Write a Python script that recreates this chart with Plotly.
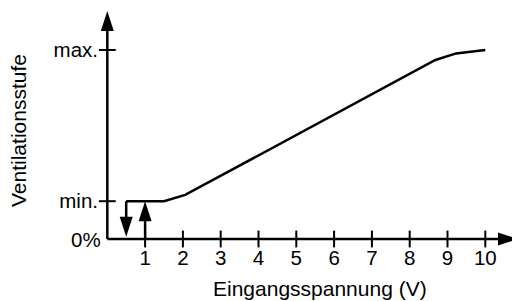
import plotly.graph_objects as go

# ---- data ----
curve_v = [0.5, 1.5, 2.06, 8.68, 9.23, 10.0]
curve_level = [20, 20, 23.3, 94.7, 98.2, 100]

x_ticks = [1, 2, 3, 4, 5, 6, 7, 8, 9, 10]
x_ticklabels = ["1", "2", "3", "4", "5", "6", "7", "8", "9", "10"]
y_ticks = [20, 100]
y_ticklabels = ["min.", "max."]
zero_label = "0%"

down_arrow_v = 0.5      # switching off
down_arrow_from = 20
down_arrow_to = 1.2
up_arrow_v = 1.0        # switching on
up_arrow_from = 0
up_arrow_to = 20

x_axis_end = 10.865
y_axis_end = 120.6

x_title = "Eingangsspannung (V)"
y_title = "Ventilationsstufe"

# ---- geometry (page pixels; the page body adds an 8px offset) ----
OFF = 8
PAGE_W, PAGE_H = 520, 301
W, H = PAGE_W - OFF, PAGE_H - OFF
PX_V = 37.8      # px per volt
PX_P = 1.89      # px per percent
ORIGIN_X = 107.3
ORIGIN_Y = 239.0
plot_l, plot_r, plot_t, plot_b = 103, 520, 8, 243
ML = plot_l - OFF
MR = PAGE_W - plot_r
MT = plot_t - OFF
MB = PAGE_H - plot_b
xr = [(plot_l - ORIGIN_X) / PX_V, (plot_r - ORIGIN_X) / PX_V]
yr = [(ORIGIN_Y - plot_b) / PX_P, (ORIGIN_Y - plot_t) / PX_P]

FONT = "Liberation Sans, Arial, sans-serif"
LW = 2.5
HEAD = 21
head_len_px = 0.951 * HEAD  # length of the 'arrow' marker symbol

fig = go.Figure()

# axis lines
fig.add_trace(go.Scatter(x=[0, x_axis_end - 0.8 * head_len_px / PX_V], y=[0, 0],
                         mode="lines", line=dict(color="black", width=LW),
                         showlegend=False, hoverinfo="skip"))
fig.add_trace(go.Scatter(x=[0, 0], y=[0, y_axis_end - 0.8 * head_len_px / PX_P],
                         mode="lines", line=dict(color="black", width=LW),
                         showlegend=False, hoverinfo="skip"))

# main characteristic curve
fig.add_trace(go.Scatter(x=curve_v, y=curve_level, mode="lines",
                         line=dict(color="black", width=LW),
                         hoverinfo="skip", showlegend=False))

# hysteresis arrows (shafts stop at arrow head base)
hl = head_len_px / PX_P
fig.add_trace(go.Scatter(x=[down_arrow_v, down_arrow_v],
                         y=[down_arrow_from, down_arrow_to + hl * 0.8],
                         mode="lines", line=dict(color="black", width=LW),
                         showlegend=False, hoverinfo="skip"))
fig.add_trace(go.Scatter(x=[up_arrow_v, up_arrow_v],
                         y=[up_arrow_from, up_arrow_to - hl * 0.8],
                         mode="lines", line=dict(color="black", width=LW),
                         showlegend=False, hoverinfo="skip"))

# arrow heads (hysteresis + axes)
fig.add_trace(go.Scatter(
    x=[down_arrow_v, up_arrow_v, 0, x_axis_end],
    y=[down_arrow_to, up_arrow_to, y_axis_end, 0],
    mode="markers", cliponaxis=False,
    marker=dict(symbol="arrow", size=HEAD, angle=[180, 0, 0, 90],
                color="black", line=dict(width=0)),
    showlegend=False, hoverinfo="skip"))

# crossing tick marks
fig.add_trace(go.Scatter(x=x_ticks, y=[0] * len(x_ticks), mode="markers",
                         cliponaxis=False,
                         marker=dict(symbol="line-ns", size=12,
                                     line=dict(color="black", width=2)),
                         showlegend=False, hoverinfo="skip"))
fig.add_trace(go.Scatter(x=[0] * len(y_ticks), y=y_ticks, mode="markers",
                         cliponaxis=False,
                         marker=dict(symbol="line-ew", size=12,
                                     line=dict(color="black", width=2)),
                         showlegend=False, hoverinfo="skip"))

fig.update_layout(
    width=W, height=H,
    margin=dict(l=ML, r=MR, t=MT, b=MB, pad=0),
    paper_bgcolor="white", plot_bgcolor="white",
    font=dict(family=FONT, size=20.5, color="black"),
    xaxis=dict(range=xr, showgrid=False, zeroline=False, showline=False,
               tickmode="array", tickvals=x_ticks, ticktext=x_ticklabels,
               ticks="", ticklabelstandoff=0, fixedrange=True),
    yaxis=dict(range=yr, showgrid=False, zeroline=False, showline=False,
               tickmode="array", tickvals=y_ticks, ticktext=y_ticklabels,
               ticks="", ticklabelstandoff=4, fixedrange=True),
    annotations=[
        dict(text=zero_label, x=0, y=0, xref="x", yref="y",
             xanchor="right", yanchor="middle", xshift=-4, showarrow=False,
             font=dict(size=20.5)),
        dict(text=x_title, x=(320 - plot_l) / (plot_r - plot_l),
             y=(plot_b - 288) / (plot_b - plot_t), xref="paper", yref="paper",
             xanchor="center", yanchor="middle", showarrow=False,
             borderpad=0, font=dict(size=21)),
        dict(text=y_title, x=(18 - plot_l) / (plot_r - plot_l),
             y=(plot_b - 131) / (plot_b - plot_t), xref="paper", yref="paper",
             xanchor="center", yanchor="middle", textangle=-90,
             borderpad=0, showarrow=False, font=dict(size=21)),
    ],
)

fig.write_html("out.html")
